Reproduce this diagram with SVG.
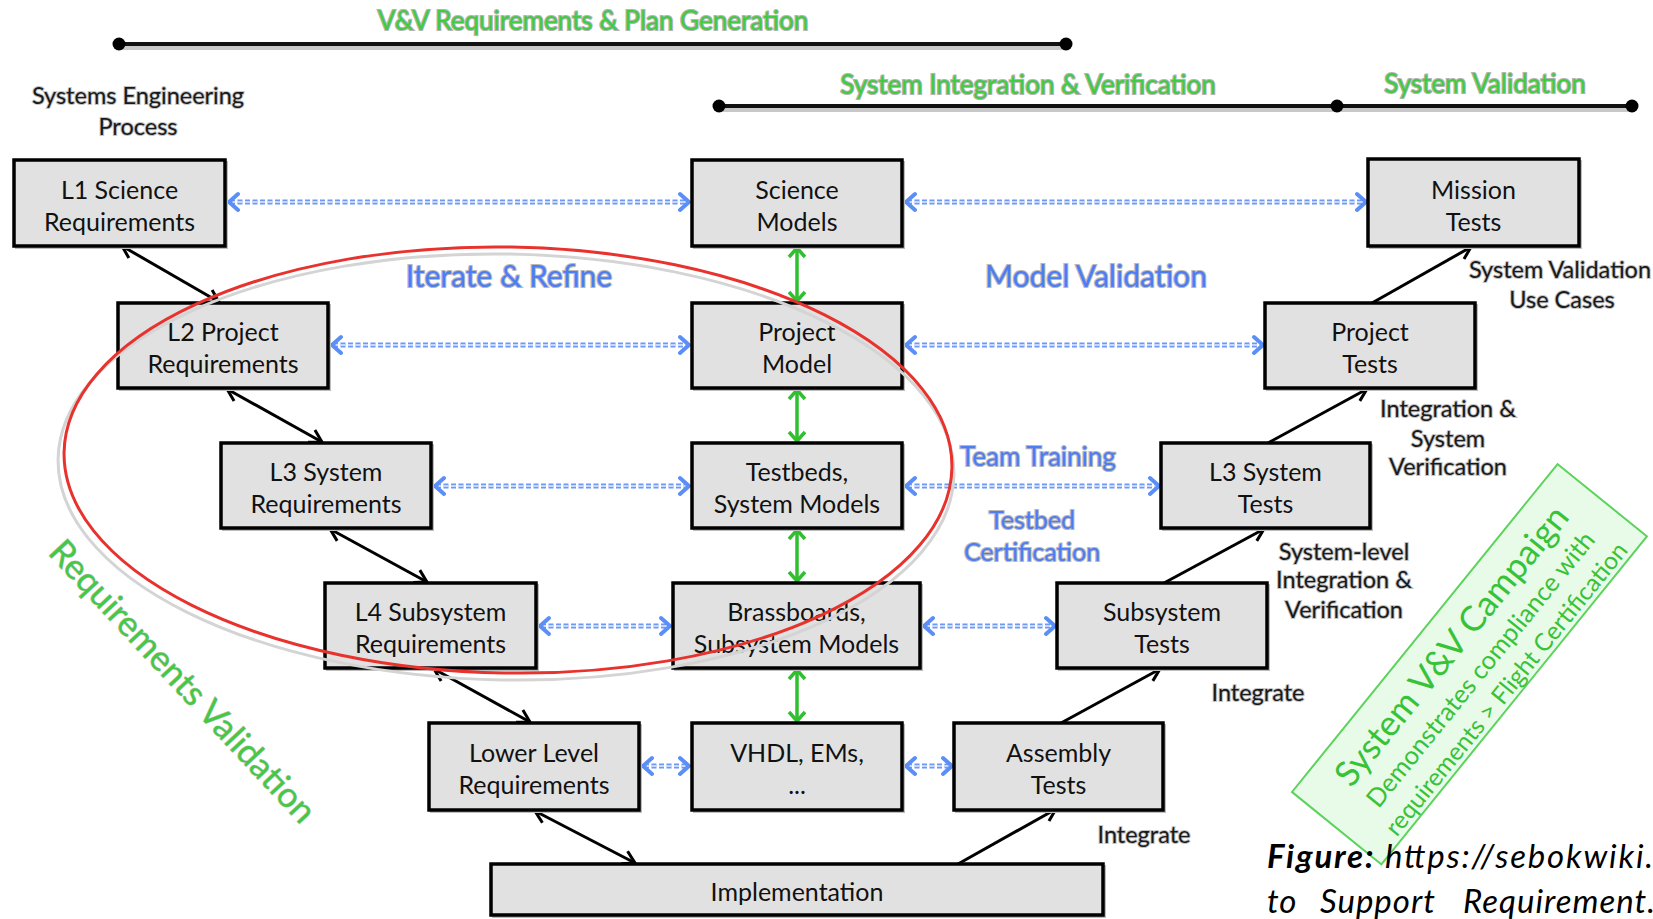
<svg xmlns="http://www.w3.org/2000/svg" width="1653" height="919" viewBox="0 0 1653 919">
<defs>
<style>
.box{fill:#e1e1e1;stroke:#000;stroke-width:3.5}
.shd{fill:none;stroke:#bdbdbd;stroke-width:2}
.bt{font-family:Lato,"Liberation Sans",sans-serif;font-size:25px;fill:#111;text-anchor:middle}
.gt{font-family:Lato,"Liberation Sans",sans-serif;font-size:26px;fill:#3ecb3e;stroke:#b4b4b4;stroke-width:2.2;paint-order:stroke;text-anchor:middle}
.blt{font-family:Lato,"Liberation Sans",sans-serif;fill:#4c7cf6;stroke:#b8b8b8;stroke-width:2.2;paint-order:stroke;text-anchor:middle}
.dk{font-family:Lato,"Liberation Sans",sans-serif;font-size:23.5px;fill:#1a1a1a;stroke:#c4c4c4;stroke-width:2;paint-order:stroke;text-anchor:middle}
.tl{stroke:#111;stroke-width:4;fill:none}
.tlsh{stroke:#c8c8c8;stroke-width:8;fill:none}
.blk{stroke:#000;stroke-width:3;fill:none;marker-start:url(#mb);marker-end:url(#mb)}
.up{stroke:#000;stroke-width:3;fill:none;marker-end:url(#mb)}
.grn{stroke:#2fbf2f;stroke-width:3.5;fill:none;marker-start:url(#mg);marker-end:url(#mg)}
.bd{stroke:#6d99f6;stroke-width:5;stroke-dasharray:5 2.5;fill:none}
.bdi{stroke:#e4edff;stroke-width:1.6;stroke-dasharray:5 2.5;fill:none}
.bh{stroke:#5b8ff7;stroke-width:4;fill:none;stroke-linecap:round;stroke-linejoin:round}
.cg{font-family:Lato,"Liberation Sans",sans-serif;fill:#38c238;text-anchor:middle}
</style>
<marker id="mb" viewBox="-16 -10 18 20" markerWidth="18" markerHeight="20" refX="0" refY="0" markerUnits="userSpaceOnUse" orient="auto-start-reverse">
<path d="M-12,-7 L0,0 L-12,7" fill="none" stroke="#000" stroke-width="3"/>
</marker>
<marker id="mg" viewBox="-14 -10 16 20" markerWidth="16" markerHeight="20" refX="0" refY="0" markerUnits="userSpaceOnUse" orient="auto-start-reverse">
<path d="M-9,-8 L0,0 L-9,8" fill="none" stroke="#2fbf2f" stroke-width="3.5"/>
</marker>
</defs>
<rect width="1653" height="919" fill="#fff"/>

<!-- timelines -->
<g id="timelines">
<line class="tlsh" x1="119" y1="46" x2="1066" y2="46"/>
<line class="tl" x1="119" y1="44" x2="1066" y2="44"/>
<circle cx="119" cy="44" r="6.5" fill="#000"/>
<circle cx="1066" cy="44" r="6.5" fill="#000"/>
<line class="tlsh" x1="719" y1="108" x2="1632" y2="108"/>
<line class="tl" x1="719" y1="106" x2="1632" y2="106"/>
<circle cx="719" cy="106" r="6.5" fill="#000"/>
<circle cx="1337" cy="106" r="6.5" fill="#000"/>
<circle cx="1632" cy="106" r="6.5" fill="#000"/>
<text class="gt" x="593" y="30">V&amp;V Requirements &amp; Plan Generation</text>
<text class="gt" x="1028" y="94">System Integration &amp; Verification</text>
<text class="gt" x="1485" y="93">System Validation</text>
<text class="dk" x="138" y="104" font-size="26.5">Systems Engineering</text>
<text class="dk" x="138" y="135" font-size="26.5">Process</text>
</g>

<!-- connectors -->
<g id="connectors">
<line class="blk" x1="122" y1="246" x2="219" y2="302"/>
<line class="blk" x1="227" y1="389" x2="322" y2="442"/>
<line class="blk" x1="330" y1="529" x2="427" y2="582"/>
<line class="blk" x1="434" y1="669" x2="530" y2="722"/>
<line class="blk" x1="535" y1="811" x2="635" y2="863"/>
<line class="up" x1="958" y1="864" x2="1056" y2="809"/>
<line class="up" x1="1061" y1="723" x2="1160" y2="669"/>
<line class="up" x1="1164" y1="583" x2="1264" y2="529"/>
<line class="up" x1="1268" y1="443" x2="1367" y2="389"/>
<line class="up" x1="1372" y1="303" x2="1471" y2="247"/>
<line class="grn" x1="797" y1="248" x2="797" y2="301"/>
<line class="grn" x1="797" y1="390" x2="797" y2="441"/>
<line class="grn" x1="797" y1="530" x2="797" y2="581"/>
<line class="grn" x1="797" y1="670" x2="797" y2="721"/>
<g id="dotted">
<line class="bd" x1="230" y1="202" x2="688" y2="202"/><line class="bdi" x1="230" y1="202" x2="688" y2="202"/>
<path class="bh" d="M238,194 L229,202 L238,210 M680,194 L689,202 L680,210"/>
<line class="bd" x1="907" y1="202" x2="1365" y2="202"/><line class="bdi" x1="907" y1="202" x2="1365" y2="202"/>
<path class="bh" d="M915,194 L906,202 L915,210 M1357,194 L1366,202 L1357,210"/>
<line class="bd" x1="333" y1="345" x2="688" y2="345"/><line class="bdi" x1="333" y1="345" x2="688" y2="345"/>
<path class="bh" d="M341,337 L332,345 L341,353 M680,337 L689,345 L680,353"/>
<line class="bd" x1="907" y1="345" x2="1262" y2="345"/><line class="bdi" x1="907" y1="345" x2="1262" y2="345"/>
<path class="bh" d="M915,337 L906,345 L915,353 M1254,337 L1263,345 L1254,353"/>
<line class="bd" x1="436" y1="486" x2="688" y2="486"/><line class="bdi" x1="436" y1="486" x2="688" y2="486"/>
<path class="bh" d="M444,478 L435,486 L444,494 M680,478 L689,486 L680,494"/>
<line class="bd" x1="907" y1="486" x2="1158" y2="486"/><line class="bdi" x1="907" y1="486" x2="1158" y2="486"/>
<path class="bh" d="M915,478 L906,486 L915,494 M1150,478 L1159,486 L1150,494"/>
<line class="bd" x1="541" y1="626" x2="669" y2="626"/><line class="bdi" x1="541" y1="626" x2="669" y2="626"/>
<path class="bh" d="M549,618 L540,626 L549,634 M661,618 L670,626 L661,634"/>
<line class="bd" x1="925" y1="626" x2="1054" y2="626"/><line class="bdi" x1="925" y1="626" x2="1054" y2="626"/>
<path class="bh" d="M933,618 L924,626 L933,634 M1046,618 L1055,626 L1046,634"/>
<line class="bd" x1="644" y1="766" x2="688" y2="766"/><line class="bdi" x1="644" y1="766" x2="688" y2="766"/>
<path class="bh" d="M652,758 L643,766 L652,774 M680,758 L689,766 L680,774"/>
<line class="bd" x1="907" y1="766" x2="951" y2="766"/><line class="bdi" x1="907" y1="766" x2="951" y2="766"/>
<path class="bh" d="M915,758 L906,766 L915,774 M943,758 L952,766 L943,774"/>
</g>
</g>

<!-- nodes -->
<g id="l1"><rect class="shd" x="16" y="162" width="211" height="86"/><rect class="box" x="14" y="160" width="211" height="86"/><text class="bt" x="119.5" y="199">L1 Science</text><text class="bt" x="119.5" y="231">Requirements</text></g>
<g id="science"><rect class="shd" x="694" y="162" width="210" height="86"/><rect class="box" x="692" y="160" width="210" height="86"/><text class="bt" x="797" y="199">Science</text><text class="bt" x="797" y="231">Models</text></g>
<g id="mission"><rect class="shd" x="1370" y="161" width="211" height="87"/><rect class="box" x="1368" y="159" width="211" height="87"/><text class="bt" x="1473.5" y="199">Mission</text><text class="bt" x="1473.5" y="231">Tests</text></g>
<g id="l2"><rect class="shd" x="120" y="305" width="210" height="85"/><rect class="box" x="118" y="303" width="210" height="85"/><text class="bt" x="223" y="341">L2 Project</text><text class="bt" x="223" y="373">Requirements</text></g>
<g id="projmodel"><rect class="shd" x="694" y="305" width="210" height="85"/><rect class="box" x="692" y="303" width="210" height="85"/><text class="bt" x="797" y="341">Project</text><text class="bt" x="797" y="373">Model</text></g>
<g id="projtests"><rect class="shd" x="1267" y="305" width="210" height="85"/><rect class="box" x="1265" y="303" width="210" height="85"/><text class="bt" x="1370" y="341">Project</text><text class="bt" x="1370" y="373">Tests</text></g>
<g id="l3req"><rect class="shd" x="223" y="445" width="210" height="85"/><rect class="box" x="221" y="443" width="210" height="85"/><text class="bt" x="326" y="481">L3 System</text><text class="bt" x="326" y="513">Requirements</text></g>
<g id="testbeds"><rect class="shd" x="694" y="445" width="210" height="85"/><rect class="box" x="692" y="443" width="210" height="85"/><text class="bt" x="797" y="481">Testbeds,</text><text class="bt" x="797" y="513">System Models</text></g>
<g id="l3tests"><rect class="shd" x="1163" y="445" width="209" height="85"/><rect class="box" x="1161" y="443" width="209" height="85"/><text class="bt" x="1265.5" y="481">L3 System</text><text class="bt" x="1265.5" y="513">Tests</text></g>
<g id="l4"><rect class="shd" x="327" y="585" width="211" height="85"/><rect class="box" x="325" y="583" width="211" height="85"/><text class="bt" x="430.5" y="621">L4 Subsystem</text><text class="bt" x="430.5" y="653">Requirements</text></g>
<g id="brass"><rect class="shd" x="675" y="585" width="247" height="85"/><rect class="box" x="673" y="583" width="247" height="85"/><text class="bt" x="796.5" y="621">Brassboards,</text><text class="bt" x="796.5" y="653">Subsystem Models</text></g>
<g id="subtests"><rect class="shd" x="1059" y="585" width="210" height="85"/><rect class="box" x="1057" y="583" width="210" height="85"/><text class="bt" x="1162" y="621">Subsystem</text><text class="bt" x="1162" y="653">Tests</text></g>
<g id="lower"><rect class="shd" x="431" y="725" width="210" height="87"/><rect class="box" x="429" y="723" width="210" height="87"/><text class="bt" x="534" y="762">Lower Level</text><text class="bt" x="534" y="794">Requirements</text></g>
<g id="vhdl"><rect class="shd" x="694" y="725" width="210" height="87"/><rect class="box" x="692" y="723" width="210" height="87"/><text class="bt" x="797" y="762">VHDL, EMs,</text><text class="bt" x="797" y="794">...</text></g>
<g id="assembly"><rect class="shd" x="956" y="725" width="209" height="87"/><rect class="box" x="954" y="723" width="209" height="87"/><text class="bt" x="1058.5" y="762">Assembly</text><text class="bt" x="1058.5" y="794">Tests</text></g>
<g id="impl"><rect class="shd" x="493" y="866" width="612" height="51"/><rect class="box" x="491" y="864" width="612" height="51"/><text class="bt" x="797" y="901">Implementation</text></g>

<!-- red ellipse (drawn over the boxes) -->
<g id="iterate-ellipse">
<ellipse cx="506" cy="467" rx="448" ry="213" fill="none" stroke="#d4d4d4" stroke-width="3" transform="rotate(1 506 467)"/>
<ellipse cx="508" cy="460" rx="444" ry="213" fill="none" stroke="#e8322d" stroke-width="3" transform="rotate(1 508 460)"/>
</g>

<!-- labels -->
<g id="labels">
<text class="blt" x="509" y="287" font-size="30">Iterate &amp; Refine</text>
<text class="blt" x="1096" y="287" font-size="30">Model Validation</text>
<text class="blt" x="1038" y="466" font-size="26">Team Training</text>
<text class="blt" x="1032" y="529" font-size="25">Testbed</text>
<text class="blt" x="1032" y="561" font-size="25">Certification</text>
<text class="dk" x="1560" y="278">System Validation</text>
<text class="dk" x="1562" y="308">Use Cases</text>
<text class="dk" x="1448" y="417">Integration &amp;</text>
<text class="dk" x="1448" y="447">System</text>
<text class="dk" x="1448" y="475">Verification</text>
<text class="dk" x="1344" y="560">System-level</text>
<text class="dk" x="1344" y="588">Integration &amp;</text>
<text class="dk" x="1344" y="618">Verification</text>
<text class="dk" x="1258" y="701">Integrate</text>
<text class="dk" x="1144" y="843">Integrate</text>
<text transform="translate(182,682) rotate(47)" x="0" y="11" font-family="Lato, 'Liberation Sans', sans-serif" font-size="35" fill="#45c845" stroke="#c8c8c8" stroke-width="1" paint-order="stroke" text-anchor="middle">Requirements Validation</text>
</g>

<!-- campaign box -->
<g id="campaign" transform="translate(1292,792) rotate(-51)">
<rect x="0" y="0" width="422" height="115" fill="#e8fbe8" stroke="#5cd35c" stroke-width="2"/>
<text class="cg" x="214" y="44" font-size="35">System V&amp;V Campaign</text>
<text class="cg" x="214" y="78" font-size="25.5">Demonstrates compliance with</text>
<text class="cg" x="215" y="110" font-size="24.5">requirements &gt; Flight Certification</text>
</g>

<!-- caption -->
<g id="caption" font-family="Lato, 'Liberation Sans', sans-serif" font-size="33" font-style="italic" fill="#000">
<text x="1267" y="868" textLength="386" lengthAdjust="spacing"><tspan font-weight="bold">Figure:</tspan> https://sebokwiki.</text>
<text y="913" letter-spacing="1"><tspan x="1267">to</tspan><tspan x="1320">Support</tspan><tspan x="1463">Requirement.</tspan></text>
</g>
</svg>
